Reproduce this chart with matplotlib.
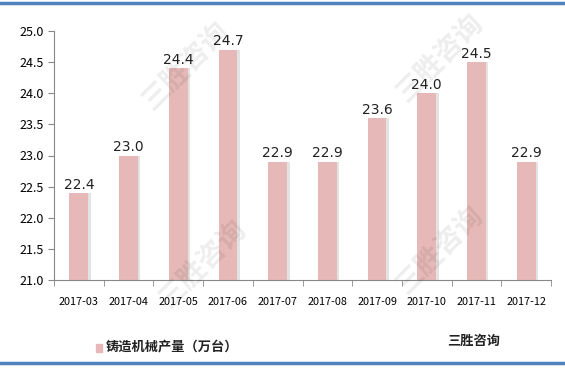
import matplotlib.pyplot as plt
import numpy as np

plt.rcParams['font.family'] = ['Noto Sans CJK SC', 'DejaVu Sans']

# data
months = ['2017-03', '2017-04', '2017-05', '2017-06', '2017-07',
          '2017-08', '2017-09', '2017-10', '2017-11', '2017-12']
output = [22.4, 23.0, 24.4, 24.7, 22.9, 22.9, 23.6, 24.0, 24.5, 22.9]
yticks = [21.0, 21.5, 22.0, 22.5, 23.0, 23.5, 24.0, 24.5, 25.0]

fig = plt.figure(figsize=(5.65, 3.68), dpi=100)
ax = fig.add_axes([54 / 565, 1 - 280 / 368, 497 / 565, 249 / 368])

x = np.arange(len(months))
# soft shadow behind each bar
ax.bar(x + 0.05, output, width=0.38, color='#e3e3e3', zorder=1)
ax.bar(x, output, width=0.38, color='#e6b9b8', zorder=2)

for xi, v in zip(x, output):
    ax.text(xi, v + 0.02, f'{v:.1f}', ha='center', va='bottom', fontsize=10,
            family='DejaVu Sans', color='#222222', zorder=3)

ax.set_xlim(-0.5, len(months) - 0.5)
ax.set_ylim(21.0, 25.0)
ax.set_yticks(yticks)
ax.set_yticklabels([f'{t:.1f}' for t in yticks], fontsize=9)
ax.set_xticks(x)
ax.set_xticklabels(months, fontsize=7.8)
ax.set_xticks(np.arange(-0.5, len(months)), minor=True)
ax.tick_params(axis='x', which='major', length=0, pad=12)
ax.tick_params(axis='x', which='minor', length=4, color='#888888')
ax.tick_params(axis='y', length=4, color='#888888')

for s in ['top', 'right']:
    ax.spines[s].set_visible(False)
ax.spines['left'].set_color('#888888')
ax.spines['bottom'].set_color('#888888')

# watermarks
for wx, wy in [(0.33, 0.82), (0.78, 0.84), (0.36, 0.28), (0.78, 0.32)]:
    fig.text(wx, wy, '三胜咨询', rotation=45, fontsize=20, color='#000000',
             alpha=0.07, ha='center', va='center', weight='bold')

# legend and source
fig.patches.append(plt.Rectangle((96 / 565, 1 - 352 / 368), 6 / 565, 8 / 368,
                                 transform=fig.transFigure, color='#e6b9b8'))
fig.text(106 / 565, 1 - 347 / 368, '铸造机械产量（万台）', fontsize=9.5,
         weight='bold', va='center', color='#222222')
fig.text(447 / 565, 1 - 341 / 368, '三胜咨询', fontsize=9.5, weight='bold',
         va='center', color='#222222')

# blue rules top and bottom
fig.add_artist(plt.Line2D([0, 1], [1 - 3 / 368, 1 - 3 / 368], color='#4f81bd', lw=2.5))
fig.add_artist(plt.Line2D([0, 1], [1 - 363 / 368, 1 - 363 / 368], color='#4f81bd', lw=2.5))

fig.savefig('out.png', dpi=100)
